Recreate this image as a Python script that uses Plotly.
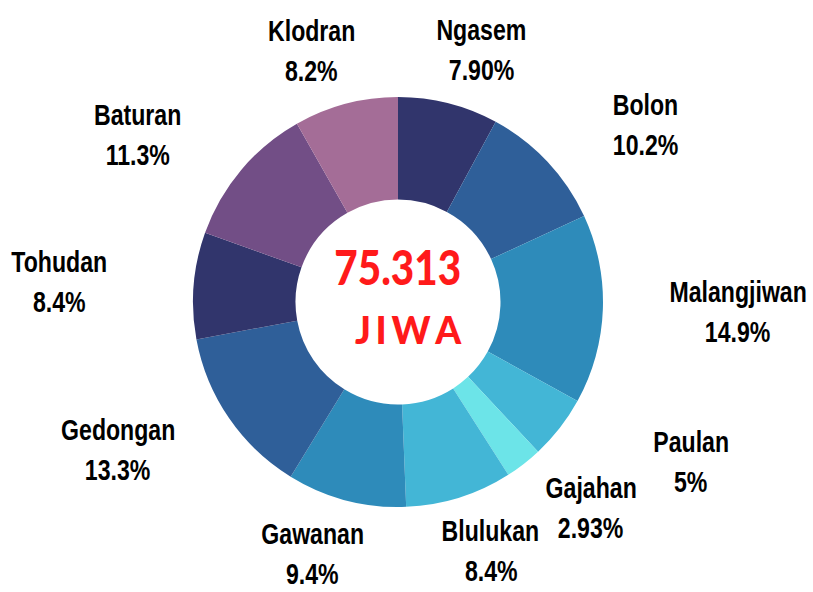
import numpy as np
import plotly.graph_objects as go

# ---- data ----
regions = ["Ngasem", "Bolon", "Malangjiwan", "Paulan", "Gajahan", "Blulukan",
           "Gawanan", "Gedongan", "Tohudan", "Baturan", "Klodran"]
shares = [7.90, 10.2, 14.9, 5, 2.93, 8.4, 9.4, 13.3, 8.4, 11.3, 8.2]
share_labels = ["7.90%", "10.2%", "14.9%", "5%", "2.93%", "8.4%",
                "9.4%", "13.3%", "8.4%", "11.3%", "8.2%"]
total_text = "75.313"
unit_text = "JIWA"

colors = ["#31356C", "#2F5F99", "#2E8BBA", "#43B6D6", "#6CE4E8", "#43B6D6",
          "#2E8BBA", "#2F5F99", "#31356C", "#724E86", "#A46D97"]

# ---- geometry (pixels) ----
W, H = 813, 592
cx, cy, R = 398, 302, 205
label_rx, label_ry = 340, 260
min_sep_x, min_sep_y = 100, 80

fig = go.Figure()
fig.add_trace(go.Pie(
    labels=regions,
    values=shares,
    sort=False,
    direction="clockwise",
    rotation=0,
    hole=0.5,
    textinfo="none",
    hoverinfo="label+percent",
    marker=dict(colors=colors, line=dict(width=0)),
    domain=dict(x=[(cx - R) / W, (cx + R) / W],
                y=[(H - cy - R) / H, (H - cy + R) / H]),
    showlegend=False,
))

label_font = dict(family="Liberation Sans, Arial, sans-serif",
                  size=30, color="#000000", weight="bold")

# label anchor points from slice mid-angles
vals = np.array(shares, dtype=float)
cum = np.cumsum(vals) - vals / 2
theta = cum / vals.sum() * 2 * np.pi
lx = cx + label_rx * np.sin(theta)
ly = cy - label_ry * np.cos(theta)

# simple collision relaxation between neighbouring labels
n = len(lx)
for _ in range(200):
    for i in range(n):
        j = (i + 1) % n
        if abs(ly[i] - ly[j]) < min_sep_y and abs(lx[i] - lx[j]) < min_sep_x:
            d = (min_sep_x - abs(lx[i] - lx[j])) / 2
            s = 1 if lx[j] >= lx[i] else -1
            lx[i] -= s * d * 0.5
            lx[j] += s * d * 0.5

annotations = []
for name, pct, px, py in zip(regions, share_labels, lx, ly):
    xp = px / W
    yp = 1 - py / H
    annotations.append(dict(x=xp, y=yp, xref="paper", yref="paper", text=name,
                            showarrow=False, xanchor="center", yanchor="middle",
                            yshift=20, font=label_font))
    annotations.append(dict(x=xp, y=yp, xref="paper", yref="paper", text=pct,
                            showarrow=False, xanchor="center", yanchor="middle",
                            yshift=-20, font=label_font))

center_font = dict(family="Lato, DejaVu Sans, sans-serif", color="#FF1A1A", weight=900)
annotations.append(dict(x=cx / W, y=1 - cy / H, xref="paper", yref="paper",
                        text=total_text, showarrow=False, xanchor="center",
                        yanchor="middle", yshift=35, font=dict(center_font, size=47)))
annotations.append(dict(x=cx / W, y=1 - cy / H, xref="paper", yref="paper",
                        text="\u2009".join(unit_text), showarrow=False, xanchor="center",
                        yanchor="middle", xshift=10, yshift=-27,
                        font=dict(center_font, size=37)))

fig.update_layout(
    width=W, height=H,
    margin=dict(l=0, r=0, t=0, b=0),
    paper_bgcolor="white",
    plot_bgcolor="white",
    annotations=annotations,
)

post_script = """
document.body.style.margin = '0';
var st = document.createElement('style');
st.textContent = "text.annotation-text[style*='Liberation']{transform-box:fill-box;transform-origin:center;transform:scaleX(0.77);}"
  + "text.annotation-text[style*='47px']{transform-box:fill-box;transform-origin:center;transform:scaleX(0.86);}";
document.head.appendChild(st);
"""

fig.write_html("out.html", post_script=post_script, config={"displayModeBar": False})
